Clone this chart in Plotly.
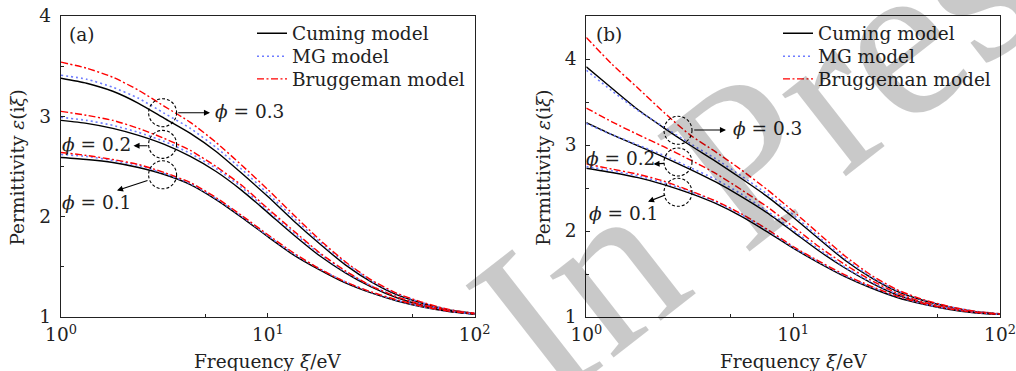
import plotly.graph_objects as go

# ---------------- data ----------------
# frequency samples, evenly spaced in log10 (1/8 decade)
xi = [1, 1.33, 1.78, 2.37, 3.16, 4.22, 5.62, 7.5, 10, 13.3, 17.8, 23.7, 31.6, 42.2, 56.2, 75, 100]

# panel (a)
a_cum_03 = [3.38, 3.33, 3.25, 3.13, 2.98, 2.83, 2.65, 2.43, 2.20, 1.96, 1.73, 1.52, 1.35, 1.22, 1.135, 1.07, 1.035]
a_mg_03 = [3.41, 3.37, 3.29, 3.18, 3.03, 2.88, 2.69, 2.47, 2.23, 1.99, 1.75, 1.54, 1.36, 1.23, 1.14, 1.073, 1.037]
a_br_03 = [3.54, 3.48, 3.39, 3.26, 3.10, 2.94, 2.74, 2.51, 2.27, 2.02, 1.77, 1.55, 1.37, 1.235, 1.145, 1.075, 1.038]
a_cum_02 = [2.96, 2.93, 2.88, 2.81, 2.72, 2.60, 2.45, 2.26, 2.04, 1.82, 1.61, 1.44, 1.30, 1.19, 1.115, 1.06, 1.03]
a_mg_02 = [2.99, 2.96, 2.91, 2.84, 2.75, 2.63, 2.48, 2.29, 2.06, 1.84, 1.63, 1.45, 1.31, 1.20, 1.12, 1.063, 1.032]
a_br_02 = [3.05, 3.01, 2.96, 2.88, 2.78, 2.66, 2.50, 2.31, 2.08, 1.86, 1.64, 1.46, 1.31, 1.20, 1.12, 1.065, 1.034]
a_cum_01 = [2.59, 2.57, 2.54, 2.49, 2.42, 2.32, 2.17, 1.99, 1.80, 1.62, 1.47, 1.34, 1.24, 1.16, 1.10, 1.055, 1.028]
a_mg_01 = [2.62, 2.60, 2.56, 2.51, 2.43, 2.33, 2.18, 2.00, 1.81, 1.63, 1.48, 1.35, 1.245, 1.165, 1.10, 1.056, 1.03]
a_br_01 = [2.64, 2.61, 2.57, 2.52, 2.44, 2.34, 2.19, 2.01, 1.82, 1.64, 1.48, 1.35, 1.25, 1.17, 1.105, 1.058, 1.031]

# panel (b)
b_cum_03 = [3.91, 3.66, 3.41, 3.20, 3.00, 2.81, 2.61, 2.40, 2.16, 1.91, 1.66, 1.46, 1.30, 1.195, 1.12, 1.065, 1.035]
b_mg_03 = [3.87, 3.63, 3.40, 3.21, 3.02, 2.84, 2.64, 2.43, 2.19, 1.93, 1.68, 1.47, 1.31, 1.20, 1.123, 1.067, 1.036]
b_br_03 = [4.25, 3.94, 3.66, 3.38, 3.12, 2.92, 2.71, 2.48, 2.23, 1.97, 1.71, 1.49, 1.32, 1.205, 1.125, 1.068, 1.037]
b_cum_02 = [3.26, 3.12, 2.99, 2.86, 2.72, 2.57, 2.40, 2.21, 1.99, 1.77, 1.57, 1.40, 1.26, 1.165, 1.10, 1.055, 1.033]
b_mg_02 = [3.25, 3.12, 3.00, 2.88, 2.74, 2.60, 2.43, 2.23, 2.01, 1.79, 1.58, 1.41, 1.27, 1.17, 1.10, 1.057, 1.034]
b_br_02 = [3.43, 3.27, 3.12, 2.98, 2.83, 2.67, 2.48, 2.28, 2.05, 1.82, 1.61, 1.43, 1.28, 1.175, 1.105, 1.06, 1.035]
b_cum_01 = [2.73, 2.68, 2.62, 2.54, 2.44, 2.32, 2.17, 1.99, 1.80, 1.63, 1.47, 1.34, 1.23, 1.15, 1.09, 1.05, 1.03]
b_mg_01 = [2.75, 2.70, 2.64, 2.56, 2.46, 2.34, 2.19, 2.01, 1.81, 1.64, 1.48, 1.35, 1.24, 1.155, 1.095, 1.052, 1.031]
b_br_01 = [2.78, 2.72, 2.66, 2.58, 2.47, 2.35, 2.20, 2.02, 1.82, 1.65, 1.49, 1.36, 1.245, 1.16, 1.097, 1.054, 1.032]

model_names = ["Cuming model", "MG model", "Bruggeman model"]
x_tick_vals = [1, 10, 100]
x_tick_text = ["10<sup>0</sup>", "10<sup>1</sup>", "10<sup>2</sup>"]
phi_labels = ["<i>ϕ</i> = 0.3", "<i>ϕ</i> = 0.2", "<i>ϕ</i> = 0.1"]

# ---------------- styling ----------------
W, H = 1016, 371
FONT = "DejaVu Serif"
FS = 18.5
styles = [
    dict(color="black", width=1.4, dash="solid"),
    dict(color="#6f7dff", width=1.6, dash="2px,3px"),
    dict(color="#ff0000", width=1.4, dash="7px,2.5px,2px,2.5px"),
]


def px(x):
    return x / W


def py(y):
    return 1 - y / H


fig = go.Figure()

panels = [
    ("x", "y", ["legend", "legend2", "legend3"],
     [[a_cum_03, a_mg_03, a_br_03], [a_cum_02, a_mg_02, a_br_02], [a_cum_01, a_mg_01, a_br_01]]),
    ("x2", "y2", ["legend4", "legend5", "legend6"],
     [[b_cum_03, b_mg_03, b_br_03], [b_cum_02, b_mg_02, b_br_02], [b_cum_01, b_mg_01, b_br_01]]),
]
for xa, ya, lgs, groups in panels:
    for gi, group in enumerate(groups):
        for mi, ys in enumerate(group):
            fig.add_trace(go.Scatter(
                x=xi, y=ys, mode="lines", xaxis=xa, yaxis=ya,
                line=dict(shape="spline", smoothing=0.6, **styles[mi]),
                name=model_names[mi], legend=lgs[mi],
                showlegend=(gi == 0),
            ))

axis_common = dict(
    showline=True, linecolor="#222", linewidth=1.3, mirror=True,
    ticks="inside", ticklen=4, tickcolor="#222", tickwidth=1,
    showgrid=False, zeroline=False,
    tickfont=dict(family=FONT, size=FS, color="#222"),
)

xdom_a = [px(61), px(474.7)]
xdom_b = [px(586.3), px(1000)]
ydom = [py(317), py(16)]

xaxis_common = dict(
    type="log", range=[0, 2], tickmode="array", tickvals=x_tick_vals, ticktext=x_tick_text,
    minor=dict(tickmode="array", tickvals=[5, 50], ticks="inside", ticklen=3, tickcolor="#222"),
    ticklabelstandoff=1,
    **axis_common,
)
yminor = dict(tickmode="array", tickvals=[1.5, 2.5, 3.5], ticks="inside", ticklen=3, tickcolor="#222")
fig.update_layout(
    xaxis=dict(domain=xdom_a, anchor="y", **xaxis_common),
    xaxis2=dict(domain=xdom_b, anchor="y2", **xaxis_common),
    yaxis=dict(domain=ydom, anchor="x", range=[1, 4], tickvals=[1, 2, 3, 4], minor=yminor,
               ticklabelstandoff=5, **axis_common),
    yaxis2=dict(domain=ydom, anchor="x2", range=[1, 4.5], tickvals=[1, 2, 3, 4], minor=yminor,
                ticklabelstandoff=5, **axis_common),
)

legend_common = dict(
    font=dict(family=FONT, size=FS, color="#222"), bgcolor="rgba(0,0,0,0)",
    borderwidth=0, xanchor="left", yanchor="middle", itemwidth=30,
)
rows_y = [33.7, 56.7, 79.3]
legends = {}
for i, name in enumerate(["legend", "legend2", "legend3"]):
    legends[name] = dict(x=px(252), y=py(rows_y[i]), **legend_common)
for i, name in enumerate(["legend4", "legend5", "legend6"]):
    legends[name] = dict(x=px(778), y=py(rows_y[i]), **legend_common)
fig.update_layout(**legends)

annotations = []
shapes = []


def text(x, y, s, size=FS, angle=0, xanchor="center"):
    annotations.append(dict(
        x=px(x), y=py(y), xref="paper", yref="paper", text=s, showarrow=False,
        font=dict(family=FONT, size=size, color="#222"), textangle=angle,
        xanchor=xanchor, yanchor="middle",
    ))


def arrow(x0, y0, x1, y1):
    annotations.append(dict(
        x=px(x1), y=py(y1), xref="paper", yref="paper", ax=x0 - x1, ay=y0 - y1,
        axref="pixel", ayref="pixel", text="", showarrow=True,
        arrowhead=2, arrowsize=1.1, arrowwidth=1.1, arrowcolor="black",
    ))


def circle(cx, cy, r=14):
    shapes.append(dict(
        type="circle", xref="paper", yref="paper",
        x0=px(cx - r), x1=px(cx + r), y0=py(cy + r), y1=py(cy - r),
        line=dict(color="black", width=1.1, dash="3px,2px"),
    ))


# panel (a) decorations
text(81.5, 35, "(a)")
for cy in (112.7, 144.4, 174.8):
    circle(162.6, cy)
arrow(176.7, 112.7, 210, 112.7)
text(213, 111, phi_labels[0], xanchor="left")
arrow(149, 145.7, 133.5, 145.7)
text(96.5, 144.5, phi_labels[1])
arrow(149, 180, 117, 190.5)
text(96.5, 202.5, phi_labels[2])
text(17, 167.5, "Permittivity <i>ε</i>(i<i>ξ</i>)", angle=-90)
text(267.5, 361.5, "Frequency <i>ξ</i>/eV")

# panel (b) decorations
text(609, 35, "(b)")
for cy in (130.3, 162, 192.3):
    circle(678, cy)
arrow(692.7, 130, 726, 130)
text(730.5, 128.5, phi_labels[0], xanchor="left")
arrow(665.7, 163.3, 653.5, 164)
text(620, 158, phi_labels[1])
arrow(666.7, 194.3, 648, 201.7)
text(623.5, 213.3, phi_labels[2])
text(543.3, 167.5, "Permittivity <i>ε</i>(i<i>ξ</i>)", angle=-90)
text(793.5, 361.5, "Frequency <i>ξ</i>/eV")

# watermark
annotations.append(dict(
    x=px(788), y=py(125), xref="paper", yref="paper", text="In Press", showarrow=False,
    font=dict(family="Liberation Serif", size=226, color="rgba(0,0,0,0.21)"),
    textangle=-38, xanchor="center", yanchor="middle",
))

fig.update_layout(
    annotations=annotations, shapes=shapes,
    width=W, height=H, autosize=False,
    margin=dict(l=0, r=0, t=0, b=0, autoexpand=False),
    paper_bgcolor="white", plot_bgcolor="white",
)

fig.write_html("out.html")
